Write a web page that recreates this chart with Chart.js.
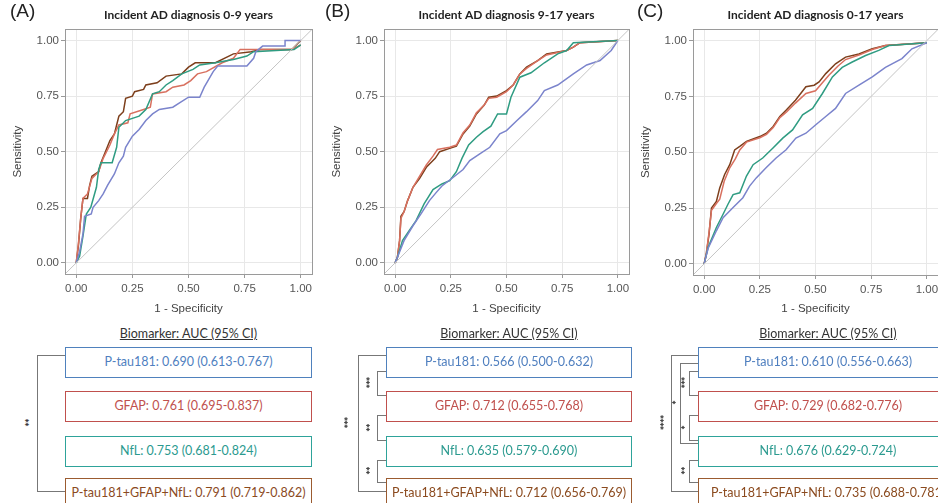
<!DOCTYPE html>
<html>
<head>
<meta charset="utf-8">
<script src="https://cdn.jsdelivr.net/npm/chart.js@4.4.1/dist/chart.umd.min.js"></script>
<style>
body { margin: 0; background: #fff; }
#page { position: relative; width: 938px; height: 503px; overflow: hidden; font-family: Lato, "Open Sans", sans-serif; }
.plot { position: absolute; top: 0; width: 320px; height: 320px; }
.tag { position: absolute; top: 0; font: 19px "Liberation Sans", Arial, sans-serif; color: #222; }
.head { position: absolute; top: 326px; width: 220px; text-align: center; font-size: 12.5px; color: #333; text-decoration: underline; }
.box { position: absolute; box-sizing: border-box; height: 31px; line-height: 28px; border: 1.5px solid; text-align: center; font-size: 12.5px; background: #fff; white-space: nowrap; }
.br { position: absolute; box-sizing: border-box; border: 1px solid #777; border-right: none; }
.star { position: absolute; font-size: 11px; font-weight: bold; line-height: 10px; letter-spacing: -1px; color: #333; transform: translate(-50%, -50%) rotate(-90deg); }
</style>
</head>
<body>
<div id="page">
  <div class="plot" style="left:0px"><canvas id="chartA"></canvas></div>
  <div class="plot" style="left:319px"><canvas id="chartB"></canvas></div>
  <div class="plot" style="left:628px"><canvas id="chartC"></canvas></div>
  <div class="tag" style="left:10px">(A)</div>
  <div class="tag" style="left:325px">(B)</div>
  <div class="tag" style="left:637px">(C)</div>
  <div id="legends"></div>
</div>
<script>
// ROC points [1 - specificity, sensitivity]
const rocA_ptau = [[0,0],[0.015,0.05],[0.03,0.13],[0.037,0.21],[0.067,0.22],[0.075,0.25],[0.1,0.28],[0.12,0.31],[0.14,0.35],[0.17,0.4],[0.19,0.45],[0.21,0.48],[0.22,0.52],[0.25,0.57],[0.28,0.6],[0.31,0.64],[0.34,0.67],[0.37,0.69],[0.43,0.7],[0.46,0.72],[0.5,0.745],[0.55,0.745],[0.57,0.79],[0.61,0.86],[0.63,0.885],[0.76,0.885],[0.79,0.92],[0.8,0.95],[0.83,0.975],[0.93,0.975],[0.93,1],[1,1]];
const rocA_gfap = [[0,0],[0.01,0.09],[0.02,0.2],[0.03,0.29],[0.05,0.31],[0.07,0.38],[0.1,0.41],[0.12,0.47],[0.15,0.53],[0.17,0.58],[0.19,0.62],[0.23,0.63],[0.24,0.67],[0.3,0.69],[0.33,0.7],[0.34,0.76],[0.4,0.77],[0.43,0.79],[0.48,0.8],[0.51,0.82],[0.54,0.85],[0.58,0.86],[0.65,0.9],[0.7,0.92],[0.73,0.96],[0.96,0.96],[1,0.98]];
const rocA_nfl = [[0,0],[0.015,0.03],[0.03,0.12],[0.045,0.22],[0.065,0.25],[0.09,0.34],[0.1,0.42],[0.11,0.45],[0.16,0.45],[0.18,0.52],[0.19,0.61],[0.22,0.64],[0.28,0.66],[0.31,0.69],[0.34,0.76],[0.37,0.77],[0.4,0.8],[0.43,0.82],[0.47,0.85],[0.52,0.87],[0.55,0.89],[0.62,0.9],[0.7,0.915],[0.76,0.93],[0.79,0.95],[0.97,0.96],[1,0.98]];
const rocA_combo = [[0,0],[0.01,0.08],[0.02,0.2],[0.03,0.29],[0.05,0.29],[0.06,0.35],[0.07,0.39],[0.1,0.41],[0.11,0.45],[0.13,0.5],[0.15,0.55],[0.17,0.58],[0.18,0.62],[0.19,0.66],[0.21,0.68],[0.22,0.74],[0.25,0.75],[0.26,0.77],[0.3,0.78],[0.31,0.8],[0.36,0.81],[0.4,0.84],[0.47,0.85],[0.5,0.88],[0.53,0.9],[0.62,0.9],[0.68,0.93],[0.7,0.94],[0.78,0.95],[0.82,0.96],[0.96,0.96],[1,1]];

const rocB_ptau = [[0,0],[0.01,0.024],[0.04,0.1],[0.08,0.167],[0.116,0.22],[0.154,0.28],[0.184,0.316],[0.21,0.346],[0.26,0.384],[0.305,0.42],[0.335,0.46],[0.38,0.49],[0.425,0.52],[0.47,0.58],[0.5,0.595],[0.547,0.64],[0.59,0.68],[0.64,0.73],[0.67,0.775],[0.73,0.8],[0.8,0.85],[0.86,0.89],[0.92,0.91],[0.97,0.955],[1,1]];
const rocB_gfap = [[0,0],[0.01,0.024],[0.02,0.1],[0.026,0.2],[0.04,0.23],[0.056,0.28],[0.08,0.34],[0.11,0.39],[0.14,0.44],[0.17,0.48],[0.19,0.51],[0.245,0.52],[0.275,0.53],[0.305,0.585],[0.335,0.62],[0.365,0.675],[0.4,0.71],[0.42,0.74],[0.456,0.745],[0.5,0.77],[0.53,0.8],[0.56,0.85],[0.59,0.875],[0.64,0.91],[0.68,0.935],[0.77,0.955],[0.8,0.97],[0.83,0.99],[1,1]];
const rocB_nfl = [[0,0],[0.01,0.024],[0.033,0.1],[0.063,0.145],[0.094,0.19],[0.13,0.265],[0.17,0.33],[0.21,0.355],[0.245,0.37],[0.275,0.41],[0.3,0.47],[0.33,0.53],[0.365,0.565],[0.395,0.59],[0.43,0.615],[0.46,0.67],[0.5,0.67],[0.52,0.745],[0.56,0.835],[0.61,0.855],[0.67,0.9],[0.73,0.94],[0.77,0.955],[0.8,0.99],[1,1]];
const rocB_combo = [[0,0],[0.01,0.024],[0.02,0.1],[0.026,0.21],[0.04,0.23],[0.056,0.28],[0.08,0.34],[0.11,0.38],[0.14,0.43],[0.16,0.45],[0.18,0.47],[0.2,0.5],[0.245,0.515],[0.275,0.525],[0.305,0.58],[0.335,0.615],[0.365,0.67],[0.4,0.71],[0.42,0.745],[0.456,0.75],[0.5,0.775],[0.53,0.8],[0.56,0.85],[0.59,0.88],[0.64,0.91],[0.68,0.94],[0.77,0.955],[0.8,0.97],[0.83,0.99],[1,1]];

const rocC_ptau = [[0,0],[0.018,0.07],[0.055,0.148],[0.085,0.207],[0.13,0.252],[0.174,0.296],[0.204,0.348],[0.234,0.385],[0.278,0.43],[0.323,0.474],[0.368,0.511],[0.412,0.563],[0.457,0.585],[0.5,0.622],[0.546,0.66],[0.59,0.696],[0.635,0.763],[0.695,0.8],[0.755,0.837],[0.814,0.88],[0.888,0.919],[0.933,0.963],[1,0.99]];
const rocC_gfap = [[0,0],[0.01,0.05],[0.022,0.14],[0.033,0.24],[0.055,0.27],[0.07,0.29],[0.09,0.37],[0.115,0.43],[0.14,0.47],[0.16,0.51],[0.19,0.545],[0.25,0.565],[0.28,0.58],[0.31,0.61],[0.34,0.655],[0.37,0.68],[0.41,0.72],[0.457,0.763],[0.5,0.775],[0.53,0.81],[0.56,0.845],[0.6,0.885],[0.635,0.915],[0.695,0.935],[0.755,0.96],[0.814,0.978],[1,0.99]];
const rocC_nfl = [[0,0],[0.018,0.074],[0.055,0.163],[0.085,0.222],[0.107,0.267],[0.13,0.31],[0.16,0.318],[0.19,0.393],[0.22,0.444],[0.263,0.474],[0.308,0.518],[0.353,0.563],[0.397,0.6],[0.442,0.667],[0.487,0.696],[0.531,0.763],[0.576,0.837],[0.62,0.88],[0.665,0.904],[0.725,0.933],[0.784,0.956],[0.83,0.978],[1,0.99]];
const rocC_combo = [[0,0],[0.01,0.045],[0.022,0.133],[0.033,0.25],[0.055,0.28],[0.07,0.34],[0.092,0.4],[0.115,0.444],[0.137,0.51],[0.16,0.526],[0.19,0.548],[0.25,0.57],[0.28,0.585],[0.31,0.615],[0.34,0.66],[0.37,0.69],[0.41,0.733],[0.457,0.793],[0.494,0.8],[0.516,0.815],[0.546,0.852],[0.59,0.896],[0.635,0.926],[0.695,0.94],[0.755,0.963],[0.814,0.978],[1,0.99]];

const refLine = [[-0.05,-0.05],[1.05,1.05]];
const tickVals = [0, 0.25, 0.5, 0.75, 1];
const panelTitles = ['Incident AD diagnosis 0-9 years', 'Incident AD diagnosis 9-17 years', 'Incident AD diagnosis 0-17 years'];

const aucA = ['P-tau181: 0.690 (0.613-0.767)', 'GFAP: 0.761 (0.695-0.837)', 'NfL: 0.753 (0.681-0.824)', 'P-tau181+GFAP+NfL: 0.791 (0.719-0.862)'];
const aucB = ['P-tau181: 0.566 (0.500-0.632)', 'GFAP: 0.712 (0.655-0.768)', 'NfL: 0.635 (0.579-0.690)', 'P-tau181+GFAP+NfL: 0.712 (0.656-0.769)'];
const aucC = ['P-tau181: 0.610 (0.556-0.663)', 'GFAP: 0.729 (0.682-0.776)', 'NfL: 0.676 (0.629-0.724)', 'P-tau181+GFAP+NfL: 0.735 (0.688-0.781)'];

// significance brackets: [from box, to box, stars]
const sigA = [[0, 3, '**']];
const sigB = [[0, 3, '***'], [0, 1, '***'], [1, 2, '**'], [2, 3, '**']];
const sigC = [[0, 3, '****'], [0, 2, '*'], [0, 1, '***'], [1, 2, '*'], [2, 3, '**']];

const lineColors = ['#7b84cc', '#d8705f', '#2f9c82', '#7d3f1c'];
const boxColors = ['#4f81bd', '#c0504d', '#2ea39a', '#9b5b30'];
const textColors = ['#4f7fbf', '#c0504d', '#2b9a8f', '#8b4a1e'];

const axisFont = { family: '"Liberation Sans", Arial, sans-serif', size: 11.5 };

const plotBorder = {
    id: 'plotBorder',
    afterDraw: function (chart) {
        const a = chart.chartArea;
        const ctx = chart.ctx;
        ctx.save();
        ctx.strokeStyle = '#9a9a9a';
        ctx.lineWidth = 1;
        ctx.strokeRect(Math.round(a.left) + 0.5, Math.round(a.top) + 0.5, Math.round(a.right - a.left), Math.round(a.bottom - a.top));
        ctx.restore();
    }
};

function toXY(pts) {
    return pts.map(function (p) { return { x: p[0], y: p[1] }; });
}

function makeRoc(id, title, series, padRight, xAxisH) {
    var datasets = [{ data: toXY(refLine), borderColor: '#c4c4c4', borderWidth: 1 }];
    // draw order: P-tau181, NfL, GFAP, combined
    [0, 2, 1, 3].forEach(function (i) {
        datasets.push({ data: toXY(series[i]), borderColor: lineColors[i], borderWidth: 1.5 });
    });
    datasets.forEach(function (d) { d.showLine = true; d.pointRadius = 0; d.fill = false; });

    return new Chart(document.getElementById(id), {
        type: 'scatter',
        data: { datasets: datasets },
        plugins: [plotBorder],
        options: {
            responsive: true,
            maintainAspectRatio: false,
            animation: false,
            events: [],
            layout: { padding: { left: 0, right: padRight, top: 0, bottom: 0 } },
            plugins: {
                legend: { display: false },
                tooltip: { enabled: false },
                title: {
                    display: true, text: title, fullSize: false, color: '#222',
                    font: { family: 'Lato, sans-serif', weight: 'bold', size: 12 },
                    padding: { top: 8, bottom: 7 }
                }
            },
            scales: {
                x: {
                    type: 'linear', min: -0.05, max: 1.05,
                    afterBuildTicks: function (s) { s.ticks = tickVals.map(function (v) { return { value: v }; }); },
                    afterFit: function (s) { s.height = xAxisH; },
                    grid: { color: '#e8e8e8', tickColor: '#999', tickLength: 4 },
                    border: { display: false },
                    ticks: { color: '#555', font: axisFont, padding: 4, maxRotation: 0, callback: function (v) { return v.toFixed(2); } },
                    title: { display: true, text: '1 - Specificity', color: '#444', font: axisFont, padding: { top: 0, bottom: 4 } }
                },
                y: {
                    type: 'linear', min: -0.05, max: 1.05,
                    afterBuildTicks: function (s) { s.ticks = tickVals.map(function (v) { return { value: v }; }); },
                    afterFit: function (s) { s.width = 65; },
                    grid: { color: '#e8e8e8', tickColor: '#999', tickLength: 4 },
                    border: { display: false },
                    ticks: { color: '#555', font: axisFont, padding: 2, callback: function (v) { return v.toFixed(2); } },
                    title: { display: true, text: 'Sensitivity', color: '#444', font: axisFont, padding: { top: 11, bottom: 0 } }
                }
            }
        }
    });
}

makeRoc('chartA', panelTitles[0], [rocA_ptau, rocA_gfap, rocA_nfl, rocA_combo], 8, 46);
makeRoc('chartB', panelTitles[1], [rocB_ptau, rocB_gfap, rocB_nfl, rocB_combo], 10, 46);
makeRoc('chartC', panelTitles[2], [rocC_ptau, rocC_gfap, rocC_nfl, rocC_combo], 10, 45);

// AUC boxes and comparison brackets underneath each plot
var boxTops = [347, 391, 436, 478];
var boxH = 31;

function buildLegend(labels, sigs, boxLeft, boxWidth, bracketXs, starXs) {
    var host = document.getElementById('legends');
    var html = '<div class="head" style="left:' + (boxLeft + boxWidth / 2 - 110) + 'px">Biomarker: AUC (95% CI)</div>';
    labels.forEach(function (t, i) {
        html += '<div class="box" style="left:' + boxLeft + 'px;top:' + boxTops[i] + 'px;width:' + boxWidth + 'px;border-color:' + boxColors[i] + ';color:' + textColors[i] + '">' + t + '</div>';
    });
    sigs.forEach(function (s, k) {
        var from = s[0], to = s[1];
        var y1, y2;
        if (to - from === 1) {
            y1 = boxTops[from] + boxH - 7;
            y2 = boxTops[to] + 4;
        } else if (to === 3) {
            y1 = boxTops[from] + 8;
            y2 = 491;
        } else {
            y1 = boxTops[from] + 16;
            y2 = boxTops[to] + 7;
        }
        var x = bracketXs[k];
        html += '<div class="br" style="left:' + x + 'px;top:' + y1 + 'px;width:' + (boxLeft - x) + 'px;height:' + (y2 - y1 + 1) + 'px"></div>';
        html += '<div class="star" style="left:' + starXs[k] + 'px;top:' + ((y1 + y2) / 2) + 'px">' + s[2] + '</div>';
    });
    host.insertAdjacentHTML('beforeend', html);
}

buildLegend(aucA, sigA, 65, 247, [37], [30]);
buildLegend(aucB, sigB, 386, 246, [358, 377, 377, 377], [349, 371, 371, 371]);
buildLegend(aucC, sigC, 698, 260, [671, 680, 689, 689, 689], [665, 677, 686, 686, 686]);
</script>
</body>
</html>
